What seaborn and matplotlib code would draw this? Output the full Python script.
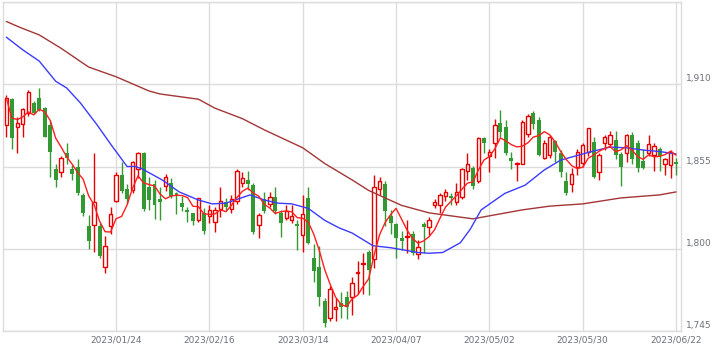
import numpy as np
import pandas as pd
import matplotlib
matplotlib.use("Agg")
import matplotlib.pyplot as plt
import matplotlib.transforms as mtransforms
import seaborn as sns

# daily candles (bar index 0..122, last bar = 2023/06/22)
opens = [1883, 1900, 1881.5, 1883.5, 1891, 1897.5, 1901, 1894, 1883, 1853,
         1851, 1864, 1853, 1855, 1836, 1815, 1816, 1815, 1788, 1815,
         1832, 1849, 1840, 1839, 1853, 1864, 1841, 1843, 1833, 1842,
         1844, 1837.5, 1830.5, 1826, 1824, 1819, 1824, 1822, 1818, 1826.5,
         1831, 1826.5, 1832, 1844, 1846, 1842.5, 1816, 1833, 1830, 1834.5,
         1824, 1820.5, 1819.5, 1816.5, 1809, 1834, 1794, 1788, 1765, 1753.5,
         1760, 1764, 1768, 1768, 1784, 1790, 1798, 1793, 1840, 1843,
         1822, 1816.5, 1807, 1808, 1810, 1796.5, 1816.5, 1814.5, 1829, 1829,
         1835, 1835, 1831, 1834.5, 1852, 1854, 1845, 1874, 1862, 1870.5,
         1884, 1881.5, 1861, 1857, 1857, 1877, 1891, 1886, 1861, 1862.5,
         1872, 1864, 1845, 1843, 1854.5, 1857.5, 1865, 1871.5, 1851, 1870.5,
         1870, 1873, 1863.5, 1864, 1876, 1871, 1859, 1864, 1863, 1867,
         1857, 1856, 1858]
highs = [1903, 1901, 1888, 1894, 1906, 1899, 1907.5, 1895, 1886, 1857,
         1862, 1871, 1856, 1860, 1837, 1822.5, 1864, 1817, 1808.5, 1828,
         1851, 1858, 1843, 1859, 1864.5, 1865, 1848, 1846, 1841, 1850,
         1847, 1838, 1835, 1828, 1824, 1834, 1827, 1829, 1828, 1841,
         1834, 1836, 1853, 1851, 1852, 1844, 1824, 1838, 1838, 1841,
         1826, 1829, 1829, 1819, 1836, 1841, 1803, 1802, 1767, 1775,
         1767, 1771, 1772, 1781, 1792, 1797, 1799, 1849, 1848, 1845,
         1826, 1817, 1812, 1819, 1812, 1806, 1818, 1821, 1833, 1837,
         1840, 1837, 1844, 1854, 1864, 1855.5, 1874.5, 1875, 1867, 1887,
         1893, 1886, 1864.5, 1858, 1886, 1890, 1892, 1888, 1873, 1876,
         1873, 1866, 1851, 1854, 1867, 1871, 1881, 1875, 1864, 1876,
         1878.5, 1878.5, 1865, 1877, 1878, 1873, 1867, 1876, 1871, 1868,
         1860.5, 1866, 1860.5]
lows = [1875, 1867, 1864, 1875, 1889, 1890, 1892, 1875, 1848, 1841,
        1848, 1857, 1846, 1836, 1822, 1799.5, 1798, 1794, 1784, 1810,
        1831, 1837, 1830, 1837, 1847, 1825, 1826, 1820, 1819, 1838.5,
        1834, 1823, 1825, 1818, 1816, 1818, 1810, 1817, 1811, 1821,
        1825, 1824, 1830, 1841, 1839, 1810, 1807, 1824, 1828, 1823,
        1808, 1819, 1817, 1799, 1798, 1803, 1778, 1762, 1748, 1752,
        1752, 1754, 1753, 1756, 1770, 1770, 1769, 1787, 1836, 1815,
        1810, 1794, 1799, 1797, 1796, 1793, 1797, 1809, 1827, 1824,
        1832, 1829, 1829, 1833, 1846, 1840, 1844, 1864, 1851, 1861,
        1875, 1863, 1853, 1845, 1857, 1875, 1880, 1862, 1860, 1861,
        1858, 1848, 1836, 1838, 1849, 1855, 1862, 1847, 1846, 1866,
        1868, 1860, 1842, 1858, 1857, 1851, 1853, 1862, 1852, 1852,
        1849, 1847, 1849]
closes = [1901, 1874, 1884, 1893.5, 1905, 1891, 1893, 1875, 1865, 1846,
          1860.5, 1861, 1850, 1837, 1824, 1805, 1831, 1795, 1802, 1823,
          1849.5, 1838.5, 1833.5, 1858, 1864, 1826.5, 1832.5, 1829, 1831, 1848,
          1835.5, 1835.5, 1828, 1824.5, 1818.5, 1834, 1812, 1826, 1826, 1832,
          1828, 1833, 1852, 1847, 1843, 1811, 1822.5, 1825, 1834.5, 1825,
          1817, 1825, 1822, 1815, 1823, 1804, 1785, 1768, 1750.5, 1773,
          1761, 1761, 1761, 1777, 1784.5, 1790.5, 1786, 1841, 1845, 1825,
          1817, 1807, 1805, 1808.5, 1797, 1801, 1814.5, 1819, 1831.5, 1836,
          1838, 1834, 1838, 1853, 1856.5, 1842, 1874, 1871, 1865, 1882.5,
          1878, 1864, 1858.5, 1857.5, 1885, 1889, 1883.5, 1863, 1871, 1874.5,
          1865, 1851, 1837, 1850, 1865, 1869.5, 1881, 1848, 1862.5, 1874.5,
          1876, 1863, 1855, 1876, 1860, 1854, 1854, 1870, 1869, 1862,
          1860, 1865, 1857]

# 25-day and 75-day averages, sampled along the lines (bar index, value)
ma25_idx = [0, 3, 6, 9, 11, 13.5, 16.5, 19, 22, 23.5, 24.7, 28.4, 31.5, 35,
            37.5, 40, 44.4, 47, 49.5, 52, 55, 58, 60.6, 63, 66.8, 70, 75, 77,
            79.5, 82.7, 84.5, 86.5, 90.8, 94.5, 98, 101, 106.3, 110, 113, 116,
            119, 122]
ma25_val = [1941.5, 1933, 1925.5, 1912, 1907.5, 1897.5, 1883, 1870, 1855, 1855,
            1853.5, 1846, 1838, 1832.6, 1830, 1830.5, 1836, 1832.6, 1830.5, 1830,
            1827, 1819, 1814, 1810.5, 1802, 1800.7, 1797.5, 1797, 1797.5, 1804,
            1813, 1826, 1837, 1842.5, 1852.7, 1859.3, 1864.7, 1868, 1867.5, 1866,
            1865, 1863.4]
ma75_idx = [0, 2.5, 6, 10, 15, 20, 26, 28, 35, 38, 43, 47, 54, 58, 63, 66, 72,
            77, 83, 85, 88, 94, 99, 105, 112, 119, 122]
ma75_val = [1952, 1948, 1943, 1934, 1921.5, 1915, 1905.5, 1903.5, 1900, 1894,
            1887, 1879.5, 1867.5, 1857, 1846, 1839, 1829, 1824, 1821, 1820, 1822,
            1826, 1828.5, 1830, 1834, 1836, 1838]

tick_idx = [20, 37, 54, 71, 88, 105, 122]
tick_labels = ["2023/01/24", "2023/02/16", "2023/03/14", "2023/04/07",
               "2023/05/02", "2023/05/30", "2023/06/22"]
y_ticks = [1745, 1800, 1855, 1910, 1965]

df = pd.DataFrame({"open": opens, "high": highs, "low": lows, "close": closes})
df["idx"] = np.arange(len(df))
df["ma5"] = df["close"].rolling(5, min_periods=1).mean()
up = df["close"] >= df["open"]

RED = "#e60000"
GREEN = "#339933"
GRID = "#dcdcdc"
TXT = "#6b707a"

sns.set_style("white")
plt.rcParams["font.family"] = ["DejaVu Sans"]

fig = plt.figure(figsize=(7.25, 3.54), dpi=100)
ax = fig.add_axes([3 / 725, 23 / 354, 678 / 725, 329 / 354])

# wicks
ax.vlines(df.loc[up, "idx"], df.loc[up, "low"], df.loc[up, "high"], color=RED, lw=1, zorder=2)
ax.vlines(df.loc[~up, "idx"], df.loc[~up, "low"], df.loc[~up, "high"], color=GREEN, lw=1, zorder=2)

# bodies
body = (df["close"] - df["open"]).abs().clip(lower=0.4)
bottom = df[["open", "close"]].min(axis=1)
ax.bar(df.loc[up, "idx"], body[up], bottom=bottom[up], width=0.62,
       facecolor="white", edgecolor=RED, linewidth=1, zorder=3)
ax.bar(df.loc[~up, "idx"], body[~up], bottom=bottom[~up], width=0.72,
       facecolor=GREEN, edgecolor=GREEN, linewidth=0, zorder=3)

# moving averages
sns.lineplot(x=ma75_idx, y=ma75_val, ax=ax, color="#a33636", lw=1, zorder=4)
sns.lineplot(x=ma25_idx, y=ma25_val, ax=ax, color="#3b3bff", lw=1, zorder=4)
sns.lineplot(x=df["idx"], y=df["ma5"], ax=ax, color="#ff1f1f", lw=1, zorder=5)

ax.set_xlim(-0.6, 122.9)
ax.set_ylim(1745, 1965)
ax.set_xticks(tick_idx)
ax.set_xticklabels(tick_labels)
ax.set_yticks(y_ticks)
ax.set_yticklabels([f"{v:,}" for v in y_ticks[:-1]] + [""])
ax.yaxis.tick_right()
ax.set_xlabel("")
ax.set_ylabel("")

ax.grid(True, color=GRID, lw=1, zorder=0)
ax.set_axisbelow(True)
for s in ax.spines.values():
    s.set_color(GRID)
    s.set_linewidth(1)
ax.tick_params(axis="both", length=0, labelsize=6.5, labelcolor=TXT)
ax.tick_params(axis="x", pad=3)
ax.tick_params(axis="y", pad=3.5)
offset = mtransforms.ScaledTranslation(0, 1 / 100, fig.dpi_scale_trans)
for lab in ax.get_yticklabels():
    lab.set_va("bottom")
    lab.set_transform(lab.get_transform() + offset)

fig.savefig("out.png", dpi=100)
